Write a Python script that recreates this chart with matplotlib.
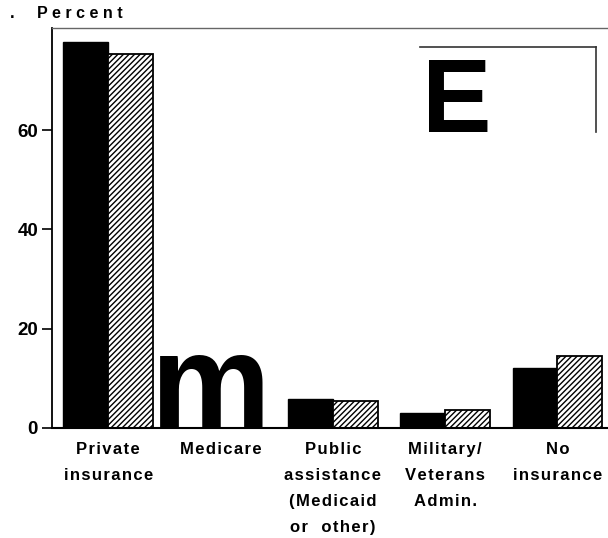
import numpy as np
import matplotlib.pyplot as plt
from matplotlib.lines import Line2D

plt.rcParams['font.family'] = ['Liberation Sans', 'DejaVu Sans']
plt.rcParams['hatch.linewidth'] = 1.0

# data (Medicare bars are hidden under a big "m")
categories = ["Private\ninsurance", "Medicare", "Public\nassistance\n(Medicaid\nor  other)",
              "Military/\nVeterans\nAdmin.", "No\ninsurance"]
series_a = [77.8, np.nan, 5.9, 3.0, 12.1]   # solid black
series_b = [75.4, np.nan, 5.5, 3.6, 14.5]   # hatched
yticks = [0, 20, 40, 60]


def spaced(s, sep='\u200a'):
    # the scan has loose letter spacing
    return '\n'.join(sep.join(line) for line in s.split('\n'))


W, H = 608, 538
fig = plt.figure(figsize=(W / 100, H / 100), dpi=100)
ax = fig.add_axes([52 / W, 1 - 428 / H, (W - 52) / W, 400 / H])

x = np.arange(len(categories))
bw = 0.4
ax.bar(x - bw / 2, series_a, bw, color='black', edgecolor='black', linewidth=1)
ax.bar(x + bw / 2, series_b, bw, color='white', edgecolor='black', linewidth=1.3,
       hatch='//////')

ax.set_xlim(-0.5, 4.45)
ax.set_ylim(0, 80.6)
ax.set_yticks(yticks)
ax.set_yticklabels([str(t) for t in yticks], fontsize=13.5, fontweight='bold')
ax.tick_params(axis='y', direction='out', length=7, width=1.2, pad=3)
ax.set_xticks(x)
ax.set_xticklabels([spaced(c) for c in categories], fontsize=12, fontweight='bold',
                   linespacing=1.92, va='top')
ax.tick_params(axis='x', length=0, pad=10)

ax.spines['right'].set_visible(False)
ax.spines['top'].set_color('#666666')
ax.spines['top'].set_linewidth(1)
ax.spines['left'].set_linewidth(1.3)
ax.spines['bottom'].set_linewidth(1.5)

# scan artifacts: the "m" over the Medicare bars and the "E" legend box
ax.text(0.91, 0, "m", fontsize=97, fontweight='bold', ha='center', va='baseline')
fig.text(422 / W, 1 - 132 / H, "E", fontsize=75, fontweight='bold',
         ha='left', va='baseline')
fig.add_artist(Line2D([420 / W, 596 / W], [1 - 47 / H, 1 - 47 / H], color='#333333', lw=1.2))
fig.add_artist(Line2D([596 / W, 596 / W], [1 - 47 / H, 1 - 132 / H], color='#333333', lw=1.2))

fig.text(10 / W, 1 - 13 / H, ".", fontsize=12, fontweight='bold', ha='left', va='center')
fig.text(37 / W, 1 - 13 / H, "P e r c e n t", fontsize=11.5, fontweight='bold',
         ha='left', va='center')

fig.savefig("out.png", dpi=100)
